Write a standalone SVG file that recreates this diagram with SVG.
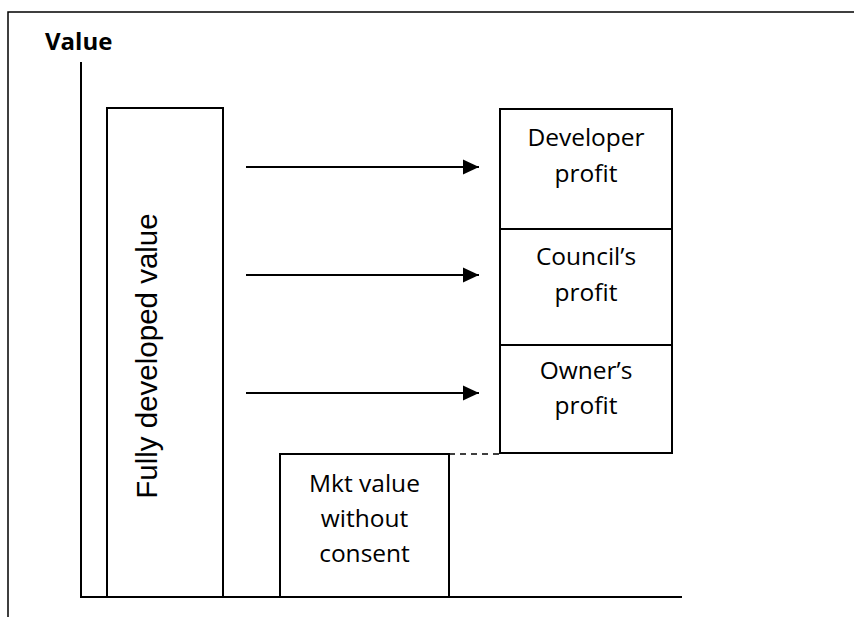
<svg xmlns="http://www.w3.org/2000/svg" width="854" height="617" viewBox="0 0 854 617">
  <style>
    .box { fill: #ffffff; stroke: #000000; stroke-width: 2; }
    .line { stroke: #000000; stroke-width: 2; fill: none; }
    .lbl { font-family: "Open Sans", "Noto Sans", sans-serif; font-size: 24.5px; fill: #000000; text-anchor: middle; }
    .title { font-family: "Open Sans", "Noto Sans", sans-serif; font-size: 24px; font-weight: bold; fill: #000000; }
    .vert { font-family: "Liberation Sans", Arial, sans-serif; font-size: 29.5px; fill: #000000; text-anchor: middle; }
  </style>
  <defs>
    <marker id="arrow" markerUnits="userSpaceOnUse" markerWidth="16" markerHeight="16" refX="16" refY="8" orient="auto">
      <polygon points="0,0.5 16,8 0,15.5" fill="#000000"/>
    </marker>
  </defs>
  <rect x="0" y="0" width="854" height="617" fill="#ffffff"/>

  <g id="frame">
    <path d="M8,617 V12 H854" stroke="#000000" stroke-width="1.5" fill="none"/>
  </g>

  <g id="axes">
    <text class="title" x="45" y="50">Value</text>
    <line class="line" x1="81" y1="62" x2="81" y2="598"/>
    <line class="line" x1="80" y1="597" x2="682" y2="597"/>
  </g>

  <g id="fully-developed">
    <rect class="box" x="107" y="108" width="116" height="489"/>
    <text class="vert" transform="translate(157,356) rotate(-90)">Fully developed value</text>
  </g>

  <g id="developer-profit">
    <rect class="box" x="500" y="109" width="172" height="120"/>
    <text class="lbl" x="586" y="146">Developer</text>
    <text class="lbl" x="586" y="182">profit</text>
  </g>

  <g id="council-profit">
    <rect class="box" x="500" y="229" width="172" height="116"/>
    <text class="lbl" x="586" y="265">Council’s</text>
    <text class="lbl" x="586" y="301">profit</text>
  </g>

  <g id="owner-profit">
    <rect class="box" x="500" y="345" width="172" height="108"/>
    <text class="lbl" x="586" y="379">Owner’s</text>
    <text class="lbl" x="586" y="414">profit</text>
  </g>

  <g id="mkt-value">
    <rect class="box" x="280" y="454" width="169" height="143"/>
    <text class="lbl" x="364.5" y="492">Mkt value</text>
    <text class="lbl" x="364.5" y="527">without</text>
    <text class="lbl" x="364.5" y="562">consent</text>
  </g>

  <g id="connectors">
    <line class="line" x1="246" y1="167" x2="479" y2="167" marker-end="url(#arrow)"/>
    <line class="line" x1="246" y1="275" x2="479" y2="275" marker-end="url(#arrow)"/>
    <line class="line" x1="246" y1="393" x2="479" y2="393" marker-end="url(#arrow)"/>
    <line x1="449" y1="454" x2="500" y2="454" stroke="#000000" stroke-width="1.5" stroke-dasharray="6,5"/>
  </g>
</svg>
